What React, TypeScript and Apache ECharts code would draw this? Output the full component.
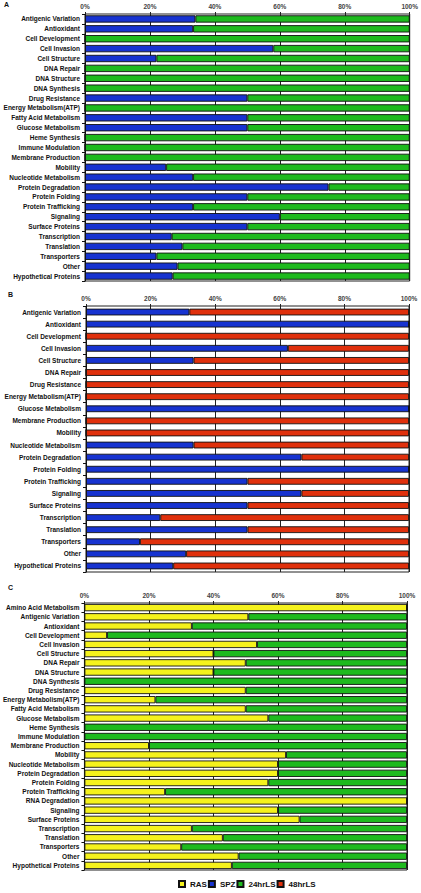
import React, { useEffect, useRef } from "react";
import * as echarts from "echarts";

const catsA = ["Antigenic Variation","Antioxidant","Cell Development","Cell Invasion","Cell Structure","DNA Repair","DNA Structure","DNA Synthesis","Drug Resistance","Energy Metabolism(ATP)","Fatty Acid Metabolism","Glucose Metabolism","Heme Synthesis","Immune Modulation","Membrane Production","Mobility","Nucleotide Metabolism","Protein Degradation","Protein Folding","Protein Trafficking","Signaling","Surface Proteins","Transcription","Translation","Transporters","Other","Hypothetical Proteins"];
const spzA = [34, 33.3, 0, 58, 22, 0, 0, 0, 50, 0, 50, 50, 0, 0, 0, 25, 33.3, 75, 50, 33.3, 60, 50, 26.7, 30, 22, 28.5, 27];
const ls24A = [66, 66.7, 100, 42, 78, 100, 100, 100, 50, 100, 50, 50, 100, 100, 100, 75, 66.7, 25, 50, 66.7, 40, 50, 73.3, 70, 78, 71.5, 73];

const catsB = ["Antigenic Variation","Antioxidant","Cell Development","Cell Invasion","Cell Structure","DNA Repair","Drug Resistance","Energy Metabolism(ATP)","Glucose Metabolism","Membrane Production","Mobility","Nucleotide Metabolism","Protein Degradation","Protein Folding","Protein Trafficking","Signaling","Surface Proteins","Transcription","Translation","Transporters","Other","Hypothetical Proteins"];
const spzB = [32, 100, 0, 62.5, 33.3, 0, 0, 0, 100, 0, 0, 33.3, 66.7, 100, 50, 66.7, 50, 23, 50, 16.7, 31, 27];
const ls48B = [68, 0, 100, 37.5, 66.7, 100, 100, 100, 0, 100, 100, 66.7, 33.3, 0, 50, 33.3, 50, 77, 50, 83.3, 69, 73];

const catsC = ["Amino Acid Metabolism","Antigenic Variation","Antioxidant","Cell Development","Cell Invasion","Cell Structure","DNA Repair","DNA Structure","DNA Synthesis","Drug Resistance","Energy Metabolism(ATP)","Fatty Acid Metabolism","Glucose Metabolism","Heme Synthesis","Immune Modulation","Membrane Production","Mobility","Nucleotide Metabolism","Protein Degradation","Protein Folding","Protein Trafficking","RNA Degradation","Signaling","Surface Proteins","Transcription","Translation","Transporters","Other","Hypothetical Proteins"];
const rasC = [100, 50.8, 33.3, 7, 53.5, 40, 50, 40, 0, 50, 22, 50, 57, 0, 0, 20, 62.5, 60, 60, 57, 25, 100, 60, 66.7, 33.3, 42.9, 30, 47.8, 45.7];
const ls24C = [0, 49.2, 66.7, 93, 46.5, 60, 50, 60, 100, 50, 78, 50, 43, 100, 100, 80, 37.5, 40, 40, 43, 75, 0, 40, 33.3, 66.7, 57.1, 70, 52.2, 54.3];

const xTicks = [0, 20, 40, 60, 80, 100];
const legendNames = ["RAS", "SPZ", "24hrLS", "48hrLS"];

const COLORS: Record<string, string> = {
  RAS: "#F5F21C",
  SPZ: "#1733D0",
  "24hrLS": "#1EBA1E",
  "48hrLS": "#E0300C",
};

const FONT = "Liberation Sans, Arial, sans-serif";

export default function App() {
  const ref = useRef<HTMLDivElement>(null);
  useEffect(() => {
    if (!ref.current) return;
    const chart = echarts.init(ref.current, null, { renderer: "svg" });

    const grids = [
      { left: 85, right: 11, top: 14, height: 267 },
      { left: 86, right: 12, top: 306, height: 266 },
      { left: 82, right: 14, top: 603, height: 267 },
    ];
    const cats = [catsA, catsB, catsC];
    const barW = ["74%", "56%", "79%"];

    const xAxis = grids.map((_, i) => ({
      type: "value",
      gridIndex: i,
      position: "top",
      min: xTicks[0],
      max: xTicks[xTicks.length - 1],
      interval: xTicks[1] - xTicks[0],
      axisLine: { show: false },
      axisTick: { show: true, length: 2, lineStyle: { color: "#222" } },
      splitLine: { show: true, lineStyle: { color: "#222", width: 1 } },
      axisLabel: {
        formatter: "{value}%",
        fontSize: 6.5,
        fontFamily: FONT,
        fontWeight: "bold",
        color: "#444",
        margin: 4,
      },
    }));

    const yAxis = grids.map((_, i) => ({
      type: "category",
      gridIndex: i,
      inverse: true,
      data: cats[i],
      axisLine: { show: true, lineStyle: { color: "#111", width: 1 } },
      axisTick: { show: true, length: 3, lineStyle: { color: "#111" } },
      axisLabel: {
        fontSize: 6.5,
        fontFamily: FONT,
        fontWeight: "bold",
        color: "#111",
        margin: 5,
        interval: 0,
      },
    }));

    const mk = (name: string, data: number[], idx: number, stack: string) => ({
      type: "bar",
      name,
      stack,
      xAxisIndex: idx,
      yAxisIndex: idx,
      data,
      barWidth: barW[idx],
      itemStyle: { color: COLORS[name], borderColor: "#111", borderWidth: 0.9 },
    });

    chart.setOption({
      animation: false,
      backgroundColor: "#fff",
      grid: grids.map((g) => ({ ...g, show: true, backgroundColor: "#fff", borderColor: "#222", borderWidth: 1 })),
      xAxis,
      yAxis,
      legend: {
        data: legendNames,
        left: 178,
        top: 879,
        padding: 0,
        itemWidth: 6,
        itemHeight: 6,
        itemGap: 1,
        icon: "rect",
        textStyle: { fontSize: 8, lineHeight: 10, fontWeight: "bold", fontFamily: FONT, color: "#111" },
      },
      graphic: [
        { type: "text", left: 4, top: 1, style: { text: "A", fontSize: 7, fontWeight: "bold", fontFamily: FONT, fill: "#111" } },
        { type: "text", left: 8, top: 291, style: { text: "B", fontSize: 7, fontWeight: "bold", fontFamily: FONT, fill: "#111" } },
        { type: "text", left: 8, top: 584, style: { text: "C", fontSize: 7, fontWeight: "bold", fontFamily: FONT, fill: "#111" } },
      ],
      series: [
        mk("SPZ", spzA, 0, "a"),
        mk("24hrLS", ls24A, 0, "a"),
        mk("SPZ", spzB, 1, "b"),
        mk("48hrLS", ls48B, 1, "b"),
        mk("RAS", rasC, 2, "c"),
        mk("24hrLS", ls24C, 2, "c"),
      ],
    });
    return () => chart.dispose();
  }, []);
  return (
    <div
      ref={ref}
      style={{ position: "absolute", left: 0, top: 0, width: 421, height: 893 }}
    />
  );
}
